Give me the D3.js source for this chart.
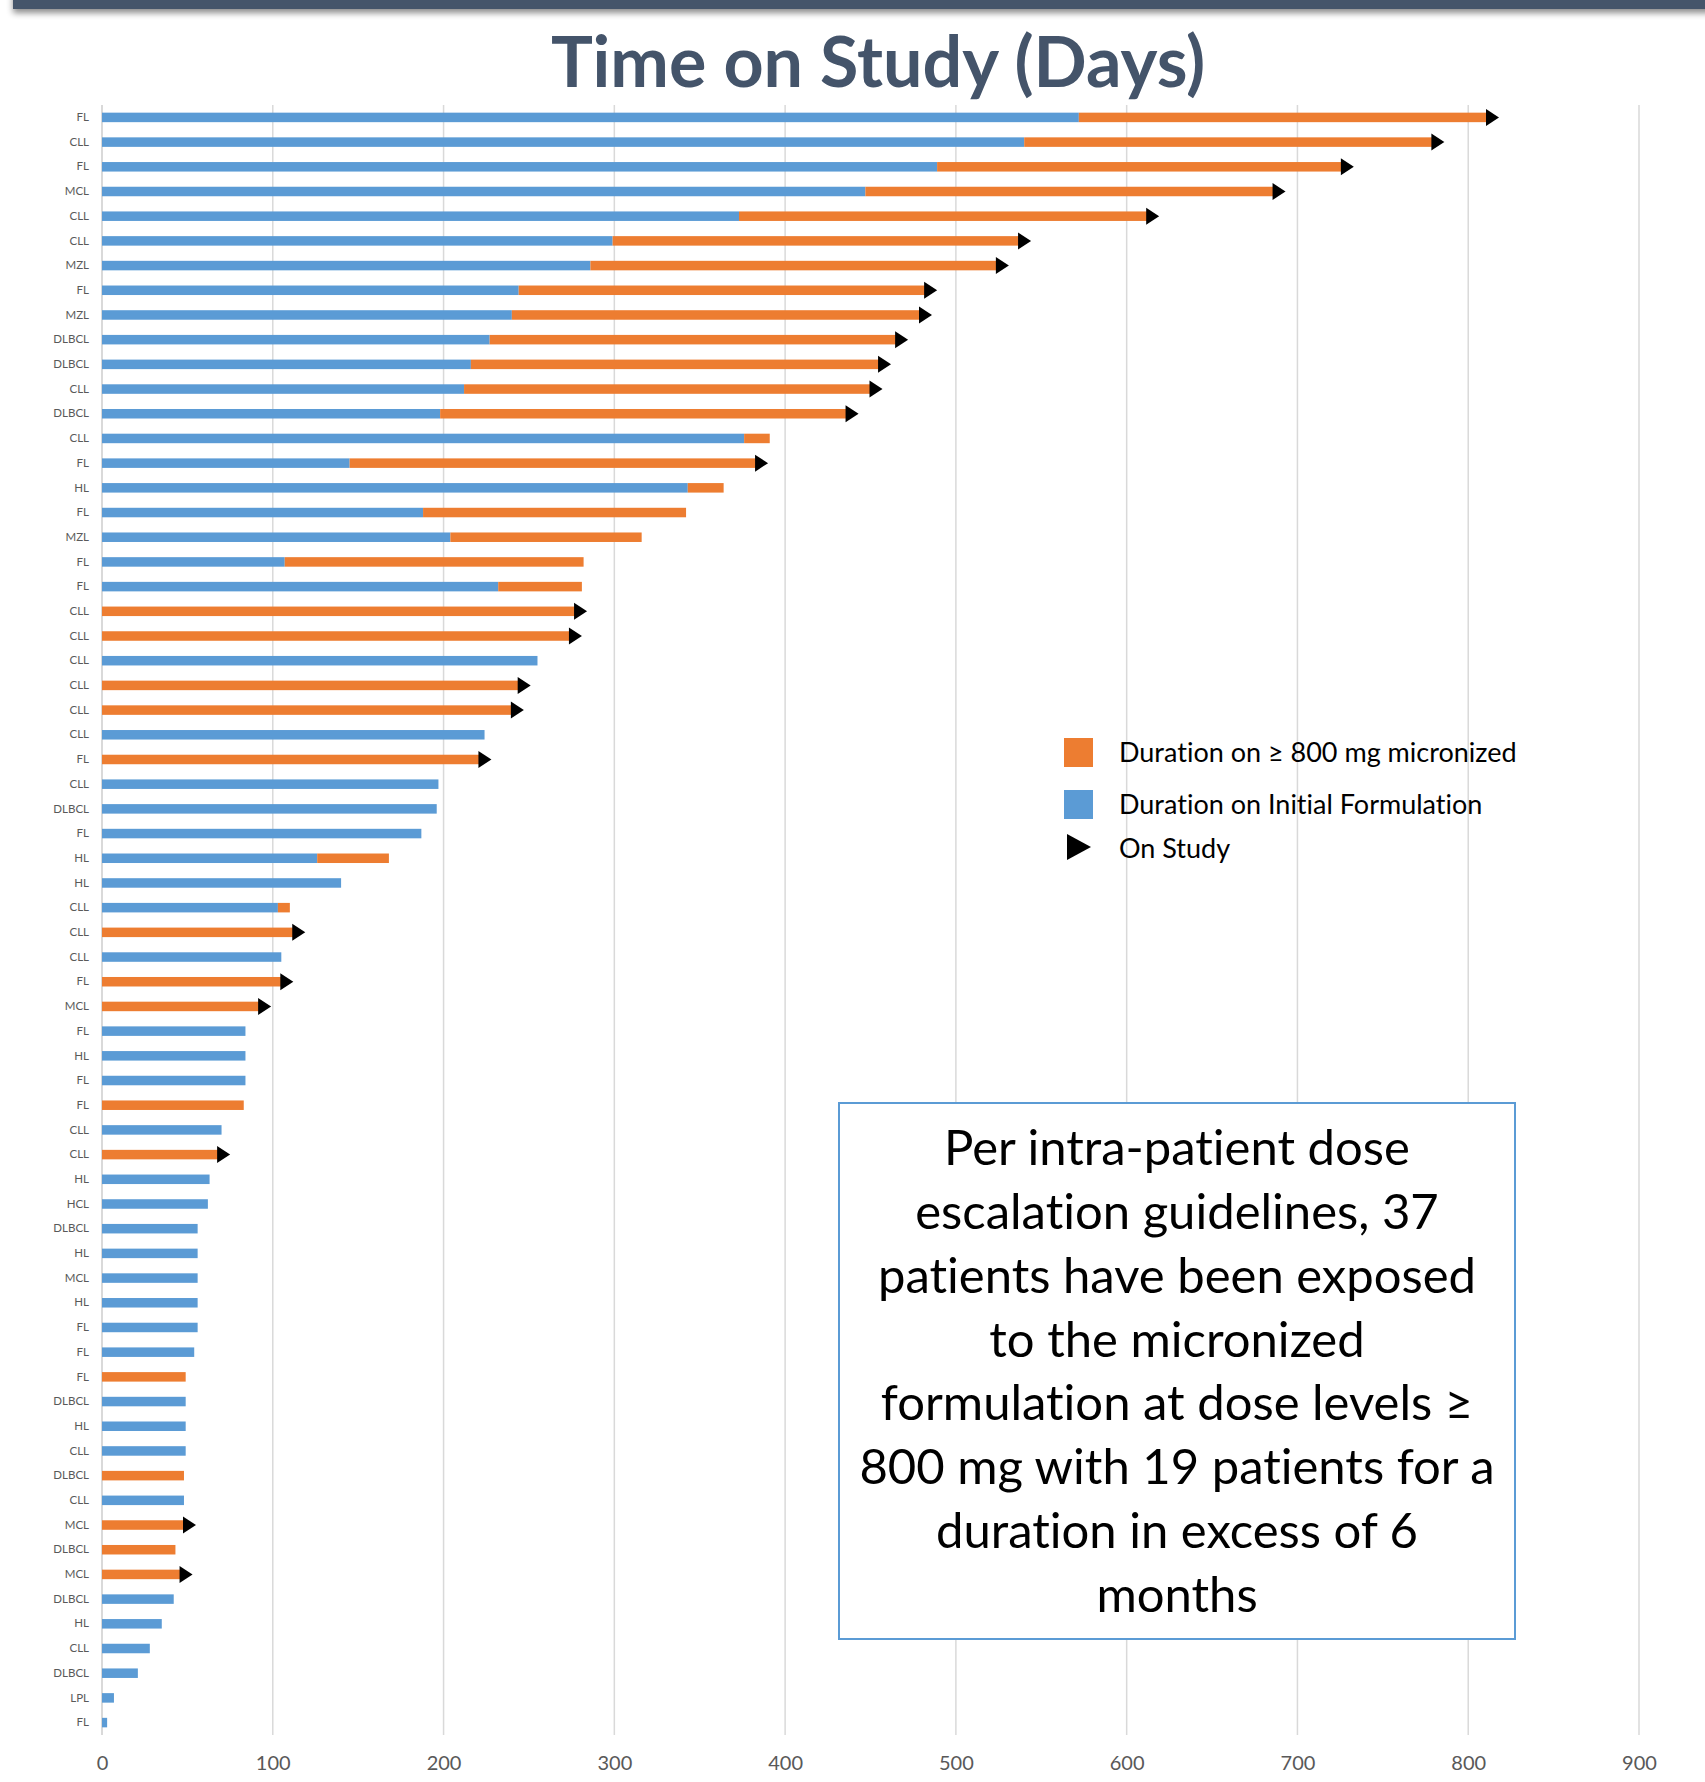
<!DOCTYPE html>
<html>
<head>
<meta charset="utf-8">
<script src="https://cdn.jsdelivr.net/npm/d3@7"></script>
<style>
  html, body { margin: 0; padding: 0; background: #fff; }
  svg { display: block; font-family: Lato, "Open Sans", sans-serif; font-variant-ligatures: none; }
  svg text { font-variant-ligatures: none; font-feature-settings: "liga" 0, "clig" 0; }
</style>
</head>
<body>
<svg id="chart" width="1705" height="1782"></svg>
<script>
// Disease type of each patient, top to bottom
const categories = [
  "FL","CLL","FL","MCL","CLL","CLL","MZL","FL","MZL","DLBCL",
  "DLBCL","CLL","DLBCL","CLL","FL","HL","FL","MZL","FL","FL",
  "CLL","CLL","CLL","CLL","CLL","CLL","FL","CLL","DLBCL","FL",
  "HL","HL","CLL","CLL","CLL","FL","MCL","FL","HL","FL",
  "FL","CLL","CLL","HL","HCL","DLBCL","HL","MCL","HL","FL",
  "FL","FL","DLBCL","HL","CLL","DLBCL","CLL","MCL","DLBCL","MCL",
  "DLBCL","HL","CLL","DLBCL","LPL","FL"
];

// Days on the initial formulation
const initialDays = [
  572, 540, 489, 447, 373, 299, 286, 244, 240, 227,
  216, 212, 198, 376, 145, 343, 188, 204, 107, 232,
    0,   0, 255,   0,   0, 224,   0, 197, 196, 187,
  126, 140, 103,   0, 105,   0,   0,  84,  84,  84,
    0,  70,   0,  63,  62,  56,  56,  56,  56,  56,
   54,   0,  49,  49,  49,   0,  48,   0,   0,   0,
   42,  35,  28,  21,   7,   3
];

// Days on >= 800 mg micronized formulation
const micronizedDays = [
  239, 239, 237, 239, 239, 238, 238, 238, 239, 238,
  239, 238, 238,  15, 238,  21, 154, 112, 175,  49,
  277, 274,   0, 244, 240,   0, 221,   0,   0,   0,
   42,   0,   7, 112,   0, 105,  92,   0,   0,   0,
   83,   0,  68,   0,   0,   0,   0,   0,   0,   0,
    0,  49,   0,   0,   0,  48,   0,  48,  43,  46,
    0,   0,   0,   0,   0,   0
];

// 1 = patient still on study
const onStudy = [
  1, 1, 1, 1, 1, 1, 1, 1, 1, 1,
  1, 1, 1, 0, 1, 0, 0, 0, 0, 0,
  1, 1, 0, 1, 1, 0, 1, 0, 0, 0,
  0, 0, 0, 1, 0, 1, 1, 0, 0, 0,
  0, 0, 1, 0, 0, 0, 0, 0, 0, 0,
  0, 0, 0, 0, 0, 0, 0, 1, 0, 1,
  0, 0, 0, 0, 0, 0
];

const xTicks = [0, 100, 200, 300, 400, 500, 600, 700, 800, 900];

const legendLabels = ["Duration on \u2265 800 mg micronized", "Duration on Initial Formulation", "On Study"];

const noteLines = [
  "Per intra-patient dose",
  "escalation guidelines, 37",
  "patients have been exposed",
  "to the micronized",
  "formulation at dose levels \u2265",
  "800 mg with 19 patients for a",
  "duration in excess of 6",
  "months"
];

const COLORS = { initial: "#5B9BD5", micronized: "#ED7D31", arrow: "#000000" };

const rows = categories.map((c, i) => ({
  idx: i, label: c, initial: initialDays[i], micronized: micronizedDays[i], onStudy: onStudy[i]
}));

const svg = d3.select("#chart");

// drop shadow for the header band
const defs = svg.append("defs");
const shadow = defs.append("filter").attr("id", "bandShadow")
  .attr("x", "-5%").attr("y", "-50%").attr("width", "110%").attr("height", "300%");
shadow.append("feDropShadow").attr("dx", 0).attr("dy", 4).attr("stdDeviation", 3)
  .attr("flood-color", "#000").attr("flood-opacity", 0.45);

svg.append("rect").attr("x", 13).attr("y", -10).attr("width", 1705).attr("height", 19)
  .attr("fill", "#44546A").attr("filter", "url(#bandShadow)");

// title
svg.append("text")
  .attr("x", 878).attr("y", 87)
  .attr("text-anchor", "middle")
  .attr("font-size", 70).attr("font-weight", 700)
  .attr("fill", "#44546A")
  .text("Time on Study (Days)");

const plot = { left: 102, right: 1639, top: 105, bottom: 1735 };

const x = d3.scaleLinear().domain([0, 900]).range([plot.left, plot.right]);
const y = d3.scaleBand().domain(d3.range(rows.length))
  .range([plot.top, plot.bottom]).paddingInner(0.615).paddingOuter(0.31);

// vertical gridlines
svg.append("g").selectAll("line").data(xTicks.slice(1)).join("line")
  .attr("x1", d => x(d)).attr("x2", d => x(d))
  .attr("y1", plot.top).attr("y2", plot.bottom)
  .attr("stroke", "#D9D9D9").attr("stroke-width", 1.5);

// category axis line
svg.append("line")
  .attr("x1", x(0)).attr("x2", x(0)).attr("y1", plot.top).attr("y2", plot.bottom)
  .attr("stroke", "#D9D9D9").attr("stroke-width", 2);

// stacked bars
const stack = d3.stack().keys(["initial", "micronized"]);
const layers = stack(rows);
svg.append("g").selectAll("g").data(layers).join("g")
  .attr("fill", d => COLORS[d.key])
  .selectAll("rect").data(d => d.filter(s => s[1] > s[0])).join("rect")
  .attr("x", s => x(s[0]))
  .attr("width", s => x(s[1]) - x(s[0]))
  .attr("y", s => y(s.data.idx))
  .attr("height", y.bandwidth());

// on-study arrow heads
const triW = 13, triH = 17;
svg.append("g").selectAll("path").data(rows.filter(r => r.onStudy)).join("path")
  .attr("d", r => {
    const x0 = x(r.initial + r.micronized) - 1;
    const yc = y(r.idx) + y.bandwidth() / 2;
    return `M${x0},${yc - triH / 2}L${x0 + triW},${yc}L${x0},${yc + triH / 2}Z`;
  })
  .attr("fill", COLORS.arrow);

// category axis labels
const yAxis = d3.axisLeft(y).tickFormat(i => categories[i]).tickSize(0).tickPadding(13);
svg.append("g").attr("transform", `translate(${x(0)},0)`).call(yAxis)
  .call(g => g.select(".domain").remove())
  .selectAll("text")
  .attr("font-family", "Lato, 'Open Sans', sans-serif")
  .attr("font-size", 11.5).attr("fill", "#595959");

// value axis labels
const xAxis = d3.axisBottom(x).tickValues(xTicks).tickSize(0).tickPadding(0);
svg.append("g").attr("transform", `translate(0,${plot.bottom + 21})`).call(xAxis)
  .call(g => g.select(".domain").remove())
  .selectAll("text")
  .attr("font-family", "Lato, 'Open Sans', sans-serif")
  .attr("font-size", 20).attr("fill", "#595959");

// legend
const legend = svg.append("g").attr("transform", "translate(1064,738)");
const legendItems = [
  { label: legendLabels[0], type: "rect", color: COLORS.micronized, dy: 0 },
  { label: legendLabels[1], type: "rect", color: COLORS.initial, dy: 52 },
  { label: legendLabels[2], type: "tri", color: COLORS.arrow, dy: 96 }
];
const li = legend.selectAll("g").data(legendItems).join("g")
  .attr("transform", d => `translate(0,${d.dy})`);
li.filter(d => d.type === "rect").append("rect")
  .attr("width", 29).attr("height", 29).attr("fill", d => d.color);
li.filter(d => d.type === "tri").append("path")
  .attr("d", "M3,0L27,13L3,26Z").attr("fill", d => d.color);
li.append("text")
  .attr("x", 55).attr("y", 14.5).attr("dy", "0.35em")
  .attr("font-size", 27).attr("fill", "#000")
  .text(d => d.label);

// note box
const box = { x: 839, y: 1103, w: 676, h: 536 };
svg.append("rect")
  .attr("x", box.x).attr("y", box.y).attr("width", box.w).attr("height", box.h)
  .attr("fill", "#fff").attr("stroke", "#5B9BD5").attr("stroke-width", 2);
svg.append("g").selectAll("text").data(noteLines).join("text")
  .attr("x", box.x + box.w / 2)
  .attr("y", (d, i) => 1148 + i * 63.8)
  .attr("dy", "0.35em")
  .attr("text-anchor", "middle")
  .attr("font-size", 49).attr("fill", "#000")
  .text(d => d);
</script>
</body>
</html>
